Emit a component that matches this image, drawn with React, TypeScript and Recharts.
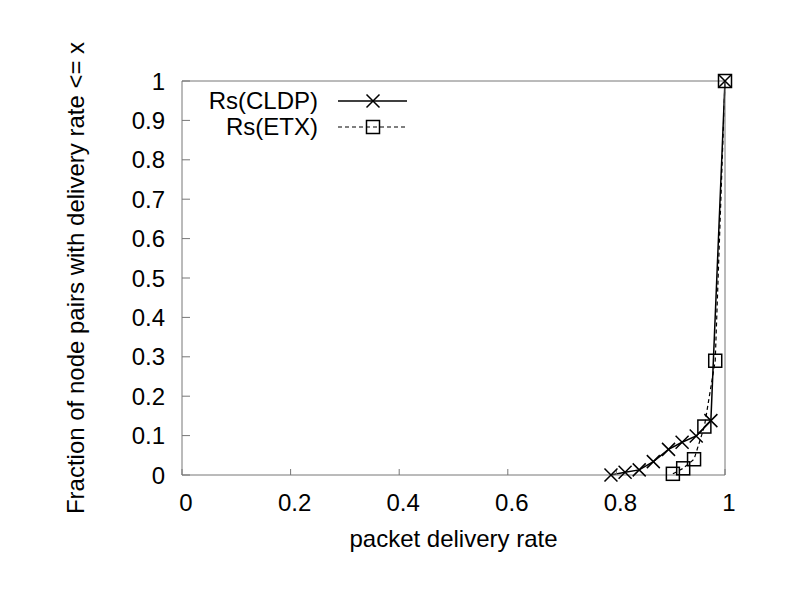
import React from 'react';
import { LineChart, Line, XAxis, YAxis } from 'recharts';

// CDF of delivery rate
const cldpRate = [0.79, 0.816, 0.842, 0.868, 0.896, 0.921, 0.947, 0.974, 1.0];
const cldpFrac = [0, 0.007, 0.013, 0.034, 0.065, 0.083, 0.099, 0.138, 1.0];
const etxRate = [0.904, 0.923, 0.943, 0.962, 0.982, 1.0];
const etxFrac = [0.003, 0.017, 0.04, 0.123, 0.29, 1.0];

const xTicks = [0, 0.2, 0.4, 0.6, 0.8, 1];
const yTicks = [0, 0.1, 0.2, 0.3, 0.4, 0.5, 0.6, 0.7, 0.8, 0.9, 1];

const cldpData = cldpRate.map((x, i) => ({ x, y: cldpFrac[i] }));
const etxData = etxRate.map((x, i) => ({ x, y: etxFrac[i] }));

const FONT = '"Liberation Sans", Arial, sans-serif';
const AXIS = '#777';

const Cross = (props: any) => {
  const { cx, cy, index } = props;
  const s = 6.5;
  return (
    <path
      key={`cross-${index}`}
      d={`M${cx - s},${cy - s}L${cx + s},${cy + s}M${cx - s},${cy + s}L${cx + s},${cy - s}`}
      stroke="#000"
      strokeWidth={1.5}
      fill="none"
    />
  );
};

const Square = (props: any) => {
  const { cx, cy, index } = props;
  const s = 6.5;
  return (
    <rect
      key={`sq-${index}`}
      x={cx - s}
      y={cy - s}
      width={2 * s}
      height={2 * s}
      stroke="#000"
      strokeWidth={1.5}
      fill="none"
    />
  );
};

const ChartLegend = () => (
  <svg width={792} height={612} style={{ position: 'absolute', left: 0, top: 0, pointerEvents: 'none' }}>
    <g fontFamily={FONT} fontSize={24} fill="#000">
      <text x={310} y={101} textAnchor="end">Rs(CLDP)</text>
      <text x={310} y={127} textAnchor="end">Rs(ETX)</text>
    </g>
    <line x1={330} x2={399} y1={93} y2={93} stroke="#000" strokeWidth={1.5} />
    <Cross cx={365} cy={93} index={0} />
    <line x1={330} x2={399} y1={119} y2={119} stroke="#000" strokeWidth={1.2} strokeDasharray="4 3" />
    <Square cx={365} cy={119} index={0} />
  </svg>
);

const App: React.FC = () => {
  const tickStyle = { fill: '#000', fontSize: 24, fontFamily: FONT };
  return (
    <div style={{ position: 'relative', width: 792, height: 612, fontFamily: FONT }}>
      <LineChart width={792} height={612} margin={{ top: 72, right: 74, bottom: 0, left: 0 }}>
        <XAxis
          xAxisId="bottom"
          type="number"
          dataKey="x"
          domain={[0, 1]}
          ticks={xTicks}
          height={145}
          tickSize={-6}
          tickMargin={25}
          tick={{ ...tickStyle, dx: 4 }}
          axisLine={{ stroke: AXIS }}
          tickLine={{ stroke: AXIS }}
          label={{ value: 'packet delivery rate', position: 'insideBottom', offset: 73, fill: '#000', fontSize: 24, fontFamily: FONT }}
        />
        <XAxis
          xAxisId="top"
          orientation="top"
          type="number"
          dataKey="x"
          domain={[0, 1]}
          ticks={xTicks}
          height={1}
          tickSize={-6}
          tick={false}
          axisLine={{ stroke: AXIS }}
          tickLine={{ stroke: AXIS }}
        />
        <YAxis
          yAxisId="left"
          type="number"
          dataKey="y"
          domain={[0, 1]}
          ticks={yTicks}
          width={174}
          tickSize={-8}
          tickMargin={25}
          tick={tickStyle}
          axisLine={{ stroke: AXIS }}
          tickLine={{ stroke: AXIS }}
          label={{
            value: 'Fraction of node pairs with delivery rate <= x',
            angle: -90,
            position: 'insideLeft',
            offset: 67,
            fill: '#000',
            fontSize: 24,
            fontFamily: FONT,
            style: { textAnchor: 'middle' },
          }}
        />
        <YAxis
          yAxisId="right"
          orientation="right"
          type="number"
          dataKey="y"
          domain={[0, 1]}
          ticks={yTicks}
          width={1}
          tickSize={-8}
          tick={false}
          axisLine={{ stroke: AXIS }}
          tickLine={{ stroke: AXIS }}
        />
        <Line
          xAxisId="bottom"
          yAxisId="left"
          data={etxData}
          dataKey="y"
          type="linear"
          stroke="#000"
          strokeWidth={1.2}
          strokeDasharray="4 3"
          dot={Square}
          activeDot={false}
          isAnimationActive={false}
        />
        <Line
          xAxisId="bottom"
          yAxisId="left"
          data={cldpData}
          dataKey="y"
          type="linear"
          stroke="#000"
          strokeWidth={1.5}
          dot={Cross}
          activeDot={false}
          isAnimationActive={false}
        />
      </LineChart>
      <ChartLegend />
    </div>
  );
};

export default App;
